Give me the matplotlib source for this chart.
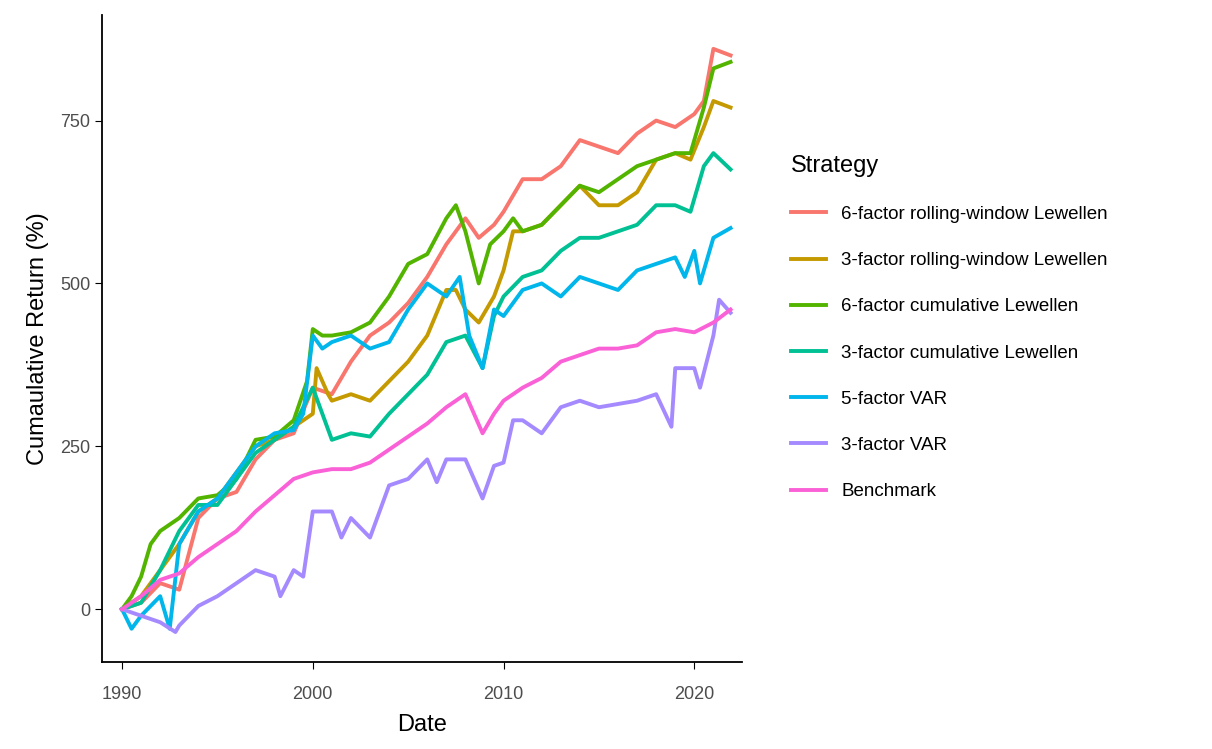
import matplotlib
matplotlib.use("Agg")
from matplotlib import pyplot as plt

plt.rcParams['font.family'] = ['Liberation Sans', 'DejaVu Sans']

strategies = ["6-factor rolling-window Lewellen", "3-factor rolling-window Lewellen",
              "6-factor cumulative Lewellen", "3-factor cumulative Lewellen",
              "5-factor VAR", "3-factor VAR", "Benchmark"]
colors = ["#F8766D", "#C49A00", "#53B400", "#00C094", "#00B6EB", "#A58AFF", "#FB61D7"]

rolling6_t = [1990, 1991, 1992, 1993, 1994, 1995, 1996, 1997, 1998, 1999, 2000, 2001, 2002, 2003, 2004, 2005,
              2006, 2007, 2008, 2008.7, 2009.5, 2010, 2011, 2012, 2013, 2014, 2015, 2016, 2017, 2018, 2019,
              2020, 2020.5, 2021, 2021.9]
rolling6_v = [0, 10, 40, 30, 140, 170, 180, 230, 260, 270, 340, 330, 380, 420, 440, 470,
              510, 560, 600, 570, 590, 610, 660, 660, 680, 720, 710, 700, 730, 750, 740,
              760, 780, 860, 850]

rolling3_t = [1990, 1991, 1992, 1993, 1994, 1995, 1996, 1997, 1998, 1999, 2000, 2000.2, 2000.8, 2001, 2002,
              2003, 2004, 2005, 2006, 2007, 2007.5, 2008, 2008.7, 2009.5, 2010, 2010.5, 2011, 2012, 2013,
              2014, 2015, 2016, 2017, 2018, 2019, 2019.8, 2020.5, 2021, 2021.9]
rolling3_v = [0, 20, 60, 100, 150, 170, 210, 250, 260, 280, 300, 370, 330, 320, 330,
              320, 350, 380, 420, 490, 490, 460, 440, 480, 520, 580, 580, 590, 620,
              650, 620, 620, 640, 690, 700, 690, 740, 780, 770]

cum6_t = [1990, 1990.5, 1991, 1991.5, 1992, 1993, 1994, 1995, 1996, 1997, 1998, 1999, 1999.7, 2000, 2000.5,
          2001, 2002, 2003, 2004, 2005, 2006, 2007, 2007.5, 2008, 2008.7, 2009.3, 2010, 2010.5, 2011, 2012,
          2013, 2014, 2015, 2016, 2017, 2018, 2019, 2019.8, 2020.5, 2021, 2021.9]
cum6_v = [0, 20, 50, 100, 120, 140, 170, 175, 200, 260, 265, 290, 350, 430, 420,
          420, 425, 440, 480, 530, 545, 600, 620, 580, 500, 560, 580, 600, 580, 590,
          620, 650, 640, 660, 680, 690, 700, 700, 770, 830, 840]

cum3_t = [1990, 1991, 1992, 1993, 1994, 1995, 1996, 1997, 1998, 1999, 2000, 2000.5, 2001, 2002, 2003, 2004,
          2005, 2006, 2007, 2008, 2008.9, 2009.5, 2010, 2011, 2012, 2013, 2014, 2015, 2016, 2017, 2018,
          2019, 2019.8, 2020.5, 2021, 2021.9]
cum3_v = [0, 10, 60, 120, 160, 160, 200, 240, 260, 280, 340, 300, 260, 270, 265, 300,
          330, 360, 410, 420, 370, 450, 480, 510, 520, 550, 570, 570, 580, 590, 620,
          620, 610, 680, 700, 675]

var5_t = [1990, 1990.5, 1991, 1992, 1992.5, 1993, 1994, 1995, 1996, 1997, 1998, 1999, 1999.5, 2000, 2000.5,
          2001, 2002, 2003, 2004, 2005, 2006, 2007, 2007.7, 2008.2, 2008.9, 2009.5, 2010, 2011, 2012, 2013,
          2014, 2015, 2016, 2017, 2018, 2019, 2019.5, 2020, 2020.3, 2021, 2021.9]
var5_v = [0, -30, -10, 20, -30, 100, 150, 170, 210, 250, 270, 275, 300, 420, 400,
          410, 420, 400, 410, 460, 500, 480, 510, 420, 370, 460, 450, 490, 500, 480,
          510, 500, 490, 520, 530, 540, 510, 550, 500, 570, 585]

var3_t = [1990, 1991, 1992, 1992.8, 1993, 1994, 1995, 1996, 1997, 1998, 1998.3, 1999, 1999.5, 2000, 2001,
          2001.5, 2002, 2003, 2004, 2005, 2006, 2006.5, 2007, 2008, 2008.9, 2009.5, 2010, 2010.5, 2011,
          2012, 2013, 2014, 2015, 2016, 2017, 2018, 2018.8, 2019, 2020, 2020.3, 2021, 2021.3, 2021.9]
var3_v = [0, -10, -20, -35, -25, 5, 20, 40, 60, 50, 20, 60, 50, 150, 150,
          110, 140, 110, 190, 200, 230, 195, 230, 230, 170, 220, 225, 290, 290,
          270, 310, 320, 310, 315, 320, 330, 280, 370, 370, 340, 420, 475, 455]

bench_t = [1990, 1991, 1992, 1993, 1994, 1995, 1996, 1997, 1998, 1999, 2000, 2001, 2002, 2003, 2004, 2005,
           2006, 2007, 2008, 2008.9, 2009.5, 2010, 2011, 2012, 2013, 2014, 2015, 2016, 2017, 2018, 2019,
           2020, 2021, 2021.9]
bench_v = [0, 20, 45, 55, 80, 100, 120, 150, 175, 200, 210, 215, 215, 225, 245, 265,
           285, 310, 330, 270, 300, 320, 340, 355, 380, 390, 400, 400, 405, 425, 430,
           425, 440, 460]

series = [(rolling6_t, rolling6_v), (rolling3_t, rolling3_v), (cum6_t, cum6_v), (cum3_t, cum3_v),
          (var5_t, var5_v), (var3_t, var3_v), (bench_t, bench_v)]

fig = plt.figure(figsize=(12.12, 7.49), dpi=100)
ax = fig.add_axes([102 / 1212, 87 / 749, 640 / 1212, 647 / 749])
for name, color, (t, v) in zip(strategies, colors, series):
    ax.plot(t, v, color=color, linewidth=2.8, label=name)

ax.set_xlim(1988.95, 2022.5)
ax.set_ylim(-81, 912)
ax.set_xticks([1990, 2000, 2010, 2020])
ax.set_yticks([0, 250, 500, 750])
ax.spines['top'].set_visible(False)
ax.spines['right'].set_visible(False)
ax.spines['left'].set_linewidth(1.3)
ax.spines['bottom'].set_linewidth(1.3)
ax.tick_params(labelsize=13, colors='black', labelcolor='#4d4d4d', length=5)
ax.tick_params(axis='x', pad=12)
ax.set_xlabel("Date", fontsize=17, labelpad=8)
ax.set_ylabel("Cumaulative Return (%)", fontsize=17, labelpad=8)

leg = ax.legend(title="Strategy", loc='upper left', bbox_to_anchor=(1.05, 0.81), frameon=False,
                fontsize=13.5, title_fontsize=17, handlelength=1.9, labelspacing=1.55)
leg._legend_box.align = "left"

fig.savefig("out.png", dpi=100)
